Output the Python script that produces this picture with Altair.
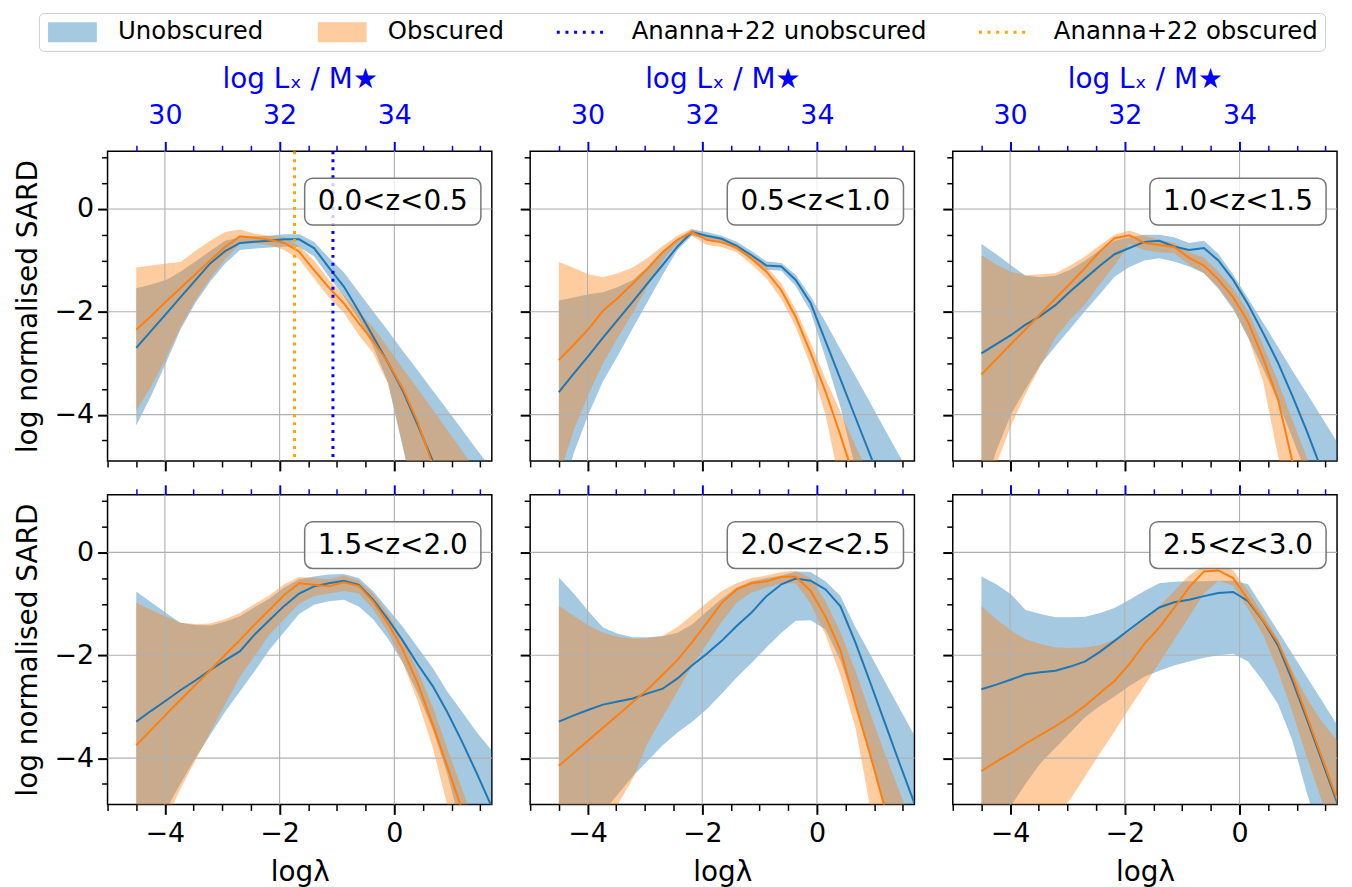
import altair as alt
import pandas as pd

# ---------------- data ----------------
LOG_LAMBDA = [-4.5, -4.24, -3.98, -3.73, -3.47, -3.21, -2.95, -2.69, -2.43, -2.18, -1.92, -1.66, -1.4,
              -1.14, -0.88, -0.62, -0.37, -0.11, 0.15, 0.41, 0.67, 0.92, 1.18, 1.44, 1.7]

Z_BINS = ["0.0<z<0.5", "0.5<z<1.0", "1.0<z<1.5", "1.5<z<2.0", "2.0<z<2.5", "2.5<z<3.0"]

UNOBS_MED = [
    [-2.70, -2.37, -2.04, -1.72, -1.39, -1.06, -0.82, -0.66, -0.64, -0.62, -0.59, -0.59, -0.76, -1.14, -1.51, -1.99, -2.48, -2.99, -3.54, -4.21, -4.90, -5.60, -6.30, -7.00, -7.70],
    [-3.56, -3.20, -2.85, -2.50, -2.15, -1.80, -1.44, -1.09, -0.73, -0.45, -0.52, -0.58, -0.72, -0.90, -1.10, -1.12, -1.38, -1.83, -2.57, -3.31, -4.05, -4.76, -5.50, -6.20, -6.90],
    [-2.81, -2.63, -2.45, -2.25, -2.08, -1.87, -1.60, -1.35, -1.10, -0.88, -0.76, -0.64, -0.62, -0.73, -0.80, -0.76, -1.00, -1.38, -1.86, -2.41, -2.99, -3.63, -4.34, -5.10, -5.90],
    [-3.29, -3.08, -2.88, -2.68, -2.49, -2.29, -2.10, -1.92, -1.59, -1.32, -1.04, -0.80, -0.66, -0.60, -0.55, -0.63, -0.92, -1.30, -1.72, -2.18, -2.60, -3.10, -3.68, -4.30, -4.95],
    [-3.29, -3.17, -3.06, -2.96, -2.90, -2.84, -2.74, -2.65, -2.45, -2.20, -1.97, -1.72, -1.43, -1.17, -0.85, -0.62, -0.51, -0.55, -0.72, -1.05, -1.75, -2.50, -3.30, -4.10, -4.88],
    [-2.66, -2.57, -2.47, -2.37, -2.33, -2.30, -2.22, -2.12, -1.93, -1.72, -1.50, -1.28, -1.07, -0.97, -0.92, -0.85, -0.79, -0.77, -0.95, -1.33, -1.81, -2.49, -3.26, -4.06, -4.86],
]
UNOBS_LO = [
    [-4.21, -3.63, -2.99, -2.35, -1.83, -1.41, -1.06, -0.80, -0.77, -0.75, -0.73, -0.74, -0.92, -1.32, -1.70, -2.15, -2.67, -3.38, -4.65, -5.90, -7.00, -7.50, -8.00, -8.00, -8.00],
    [-5.80, -4.75, -3.98, -3.35, -2.85, -2.32, -1.80, -1.28, -0.80, -0.52, -0.58, -0.64, -0.80, -0.98, -1.18, -1.20, -1.50, -2.00, -2.90, -3.85, -5.05, -6.20, -7.00, -7.50, -8.00],
    [-5.60, -4.70, -3.98, -3.50, -3.03, -2.67, -2.33, -1.98, -1.65, -1.32, -1.13, -1.00, -0.96, -1.02, -1.12, -1.25, -1.55, -1.95, -2.50, -3.10, -3.75, -4.45, -5.20, -6.00, -6.80],
    [-5.80, -5.40, -5.00, -4.50, -4.00, -3.55, -3.10, -2.70, -2.30, -1.90, -1.55, -1.20, -1.02, -0.95, -0.92, -1.05, -1.30, -1.68, -2.15, -2.75, -3.45, -4.30, -5.40, -6.50, -7.50],
    [-6.50, -6.00, -5.50, -5.05, -4.70, -4.35, -4.05, -3.75, -3.50, -3.30, -3.05, -2.75, -2.43, -2.15, -1.85, -1.56, -1.33, -1.32, -1.50, -2.10, -2.95, -3.90, -4.95, -6.00, -7.00],
    [-6.00, -5.45, -4.92, -4.50, -4.10, -3.80, -3.50, -3.20, -2.98, -2.80, -2.60, -2.42, -2.30, -2.20, -2.12, -2.05, -2.00, -1.97, -2.12, -2.50, -2.95, -3.65, -4.70, -5.60, -6.50],
]
UNOBS_HI = [
    [-1.54, -1.47, -1.38, -1.22, -1.02, -0.82, -0.62, -0.55, -0.53, -0.52, -0.49, -0.49, -0.64, -0.95, -1.23, -1.62, -1.99, -2.37, -2.76, -3.14, -3.53, -3.90, -4.29, -4.68, -5.06],
    [-1.78, -1.72, -1.66, -1.62, -1.52, -1.38, -1.12, -0.82, -0.58, -0.40, -0.45, -0.52, -0.64, -0.82, -1.02, -1.05, -1.28, -1.70, -2.20, -2.73, -3.25, -3.75, -4.28, -4.80, -5.30],
    [-0.68, -0.88, -1.10, -1.30, -1.33, -1.30, -1.18, -1.00, -0.80, -0.62, -0.55, -0.50, -0.50, -0.55, -0.66, -0.62, -0.87, -1.28, -1.74, -2.21, -2.68, -3.14, -3.60, -4.06, -4.53],
    [-0.76, -0.97, -1.18, -1.37, -1.41, -1.42, -1.35, -1.24, -1.06, -0.90, -0.68, -0.52, -0.47, -0.43, -0.42, -0.50, -0.75, -1.10, -1.45, -1.85, -2.25, -2.70, -3.10, -3.50, -3.85],
    [-0.49, -0.80, -1.15, -1.46, -1.58, -1.65, -1.65, -1.63, -1.56, -1.40, -1.15, -0.90, -0.68, -0.56, -0.50, -0.45, -0.37, -0.38, -0.56, -0.85, -1.45, -1.96, -2.50, -3.03, -3.56],
    [-0.47, -0.62, -0.82, -1.12, -1.20, -1.26, -1.26, -1.25, -1.18, -1.08, -0.92, -0.75, -0.60, -0.57, -0.56, -0.56, -0.55, -0.55, -0.62, -1.07, -1.53, -1.97, -2.43, -2.89, -3.35],
]
OBS_MED = [
    [-2.35, -2.08, -1.80, -1.54, -1.27, -1.00, -0.74, -0.53, -0.56, -0.60, -0.66, -0.83, -1.19, -1.53, -1.83, -2.22, -2.57, -2.98, -3.50, -4.15, -4.98, -5.80, -6.60, -7.40, -8.00],
    [-2.94, -2.64, -2.33, -1.98, -1.73, -1.45, -1.16, -0.84, -0.60, -0.45, -0.60, -0.65, -0.75, -0.97, -1.22, -1.58, -2.10, -2.80, -3.55, -4.40, -5.30, -6.20, -7.00, -7.50, -8.00],
    [-3.22, -2.92, -2.62, -2.34, -2.04, -1.74, -1.45, -1.14, -0.82, -0.57, -0.51, -0.66, -0.70, -0.74, -0.95, -1.10, -1.37, -1.72, -2.20, -2.90, -3.70, -4.90, -6.00, -7.00, -8.00],
    [-3.75, -3.45, -3.15, -2.87, -2.58, -2.29, -1.99, -1.70, -1.40, -1.12, -0.83, -0.60, -0.63, -0.66, -0.58, -0.65, -0.95, -1.38, -1.90, -2.55, -3.35, -4.15, -5.00, -5.90, -6.80],
    [-4.15, -3.90, -3.65, -3.41, -3.16, -2.91, -2.66, -2.38, -2.09, -1.75, -1.37, -0.98, -0.72, -0.60, -0.56, -0.48, -0.47, -0.75, -1.25, -1.90, -2.95, -3.90, -4.95, -6.00, -7.00],
    [-4.25, -4.07, -3.90, -3.72, -3.55, -3.38, -3.19, -2.98, -2.73, -2.50, -2.17, -1.78, -1.46, -1.08, -0.68, -0.37, -0.35, -0.50, -0.92, -1.32, -1.75, -2.40, -3.20, -4.00, -4.80],
]
OBS_LO = [
    [-3.92, -3.45, -2.90, -2.30, -1.78, -1.35, -0.98, -0.68, -0.66, -0.70, -0.80, -0.98, -1.35, -1.72, -2.02, -2.45, -2.80, -3.40, -4.60, -5.90, -7.00, -7.50, -8.00, -8.00, -8.00],
    [-5.20, -4.30, -3.60, -3.00, -2.50, -2.02, -1.50, -1.00, -0.66, -0.52, -0.70, -0.74, -0.84, -1.08, -1.35, -1.75, -2.30, -3.05, -4.00, -5.40, -6.50, -7.00, -7.50, -8.00, -8.00],
    [-5.90, -4.96, -4.20, -3.60, -3.05, -2.50, -2.15, -1.85, -1.45, -1.10, -0.68, -0.80, -0.84, -0.86, -1.08, -1.25, -1.52, -1.92, -2.50, -3.35, -4.80, -5.80, -6.80, -7.50, -8.00],
    [-6.20, -5.70, -5.20, -4.60, -4.05, -3.50, -2.95, -2.42, -2.00, -1.60, -1.30, -1.00, -0.85, -0.80, -0.75, -0.80, -1.10, -1.55, -2.15, -2.90, -3.80, -4.90, -5.90, -6.80, -7.50],
    [-6.60, -6.20, -5.75, -5.30, -4.90, -4.40, -3.70, -3.20, -2.70, -2.20, -1.78, -1.35, -0.98, -0.78, -0.68, -0.60, -0.60, -1.00, -1.60, -2.40, -3.40, -4.90, -6.00, -7.00, -8.00],
    [-6.60, -6.30, -6.00, -5.70, -5.40, -5.15, -4.80, -4.35, -3.90, -3.48, -3.03, -2.60, -2.15, -1.70, -1.25, -0.80, -0.55, -0.65, -1.10, -1.60, -2.30, -3.10, -4.00, -4.85, -5.70],
]
OBS_HI = [
    [-1.14, -1.10, -1.06, -1.03, -0.82, -0.62, -0.45, -0.40, -0.48, -0.52, -0.55, -0.72, -1.00, -1.38, -1.68, -2.00, -2.30, -2.70, -3.10, -3.50, -3.90, -4.30, -4.70, -5.10, -5.50],
    [-1.03, -1.15, -1.27, -1.33, -1.25, -1.14, -0.95, -0.72, -0.52, -0.38, -0.52, -0.57, -0.68, -0.88, -1.12, -1.45, -1.95, -2.60, -3.30, -3.95, -4.60, -5.20, -5.90, -6.50, -7.00],
    [-0.90, -1.08, -1.22, -1.29, -1.27, -1.25, -1.10, -0.92, -0.70, -0.50, -0.42, -0.52, -0.60, -0.66, -0.84, -0.95, -1.22, -1.55, -2.00, -2.65, -3.35, -4.10, -4.85, -5.60, -6.30],
    [-0.98, -1.12, -1.25, -1.37, -1.39, -1.38, -1.30, -1.18, -1.00, -0.84, -0.62, -0.48, -0.50, -0.52, -0.45, -0.55, -0.80, -1.20, -1.70, -2.30, -3.00, -3.80, -4.60, -5.40, -6.20],
    [-1.04, -1.23, -1.42, -1.56, -1.64, -1.68, -1.67, -1.62, -1.45, -1.22, -0.98, -0.75, -0.60, -0.50, -0.45, -0.38, -0.36, -0.50, -0.95, -1.55, -2.30, -3.10, -3.90, -4.65, -5.40],
    [-1.04, -1.30, -1.52, -1.69, -1.78, -1.85, -1.86, -1.85, -1.80, -1.70, -1.55, -1.30, -1.05, -0.75, -0.45, -0.25, -0.22, -0.35, -0.75, -1.20, -1.70, -2.30, -2.85, -3.30, -3.65],
]

ANANNA_NAMES = ["Ananna+22 unobscured", "Ananna+22 obscured"]
ANANNA_LOG_LX_M = [32.93, 32.26]     # on the top (log Lx / M*) axis
LX_OFFSET = 34                        # log Lx/M* = log(lambda) + 34

LEGEND_NAMES = ["Unobscured", "Obscured", "Ananna+22 unobscured", "Ananna+22 obscured"]

# ---------------- styling ----------------
FONT = "DejaVu Sans"
W, H = 386, 311
C_BLUE, C_ORANGE = "#1f77b4", "#ff7f0e"
TOP_BLUE, ANN_ORANGE = "#0000ff", "#ffa500"
GRID = "#b0b0b0"
MAJOR = [-4, -2, 0]
X_MINOR_BOTTOM = [-5, -4.5, -3.5, -3, -2.5, -1.5, -1, -0.5, 0.5, 1, 1.5]
X_MINOR_TOP = [-4.5, -3.5, -3, -2.5, -1.5, -1, -0.5, 0.5, 1, 1.5]
Y_MINOR = [-4.5, -3.5, -3, -2.5, -1.5, -1, -0.5, 0.5, 1]

XS = alt.Scale(domain=[-5, 1.7], nice=False, zero=False)
YS = alt.Scale(domain=[-4.9, 1.12], nice=False, zero=False)

RECT_PATH = "M-1,-1L3.9,-1L3.9,1L-1,1Z"
DOTS_PATH = ("M-1.5,-0.15h0.3v0.3h-0.3Z M-0.63,-0.15h0.3v0.3h-0.3Z M0.24,-0.15h0.3v0.3h-0.3Z "
             "M1.11,-0.15h0.3v0.3h-0.3Z M1.98,-0.15h0.3v0.3h-0.3Z M2.85,-0.15h0.3v0.3h-0.3Z")


def ax(**kw):
    base = dict(domain=False, grid=False, labelFont=FONT, titleFont=FONT, titleFontWeight="normal")
    base.update(kw)
    return alt.Axis(**base)


def legend_def():
    return alt.Legend(orient="none", legendX=-69, legendY=-139, direction="horizontal", columns=4,
                      title=None, symbolSize=400, symbolStrokeWidth=0, symbolOpacity=1,
                      labelFont=FONT, labelFontSize=24.5, labelColor="black", labelOffset=48,
                      labelLimit=600, columnPadding=52, padding=7, fillColor="white",
                      strokeColor="#cccccc", cornerRadius=5)


def panel(i):
    row, col = divmod(i, 3)
    df = pd.DataFrame({"x": LOG_LAMBDA, "umed": UNOBS_MED[i], "ulo": UNOBS_LO[i], "uhi": UNOBS_HI[i],
                       "omed": OBS_MED[i], "olo": OBS_LO[i], "ohi": OBS_HI[i]})
    base = alt.Chart(df)

    bottom_major = ax(orient="bottom", values=MAJOR, format="d", tickSize=10, tickWidth=2, tickColor="black",
                      labels=row == 1, labelFontSize=27, labelColor="black", labelPadding=6,
                      title="logλ" if row == 1 else None, titleFontSize=28, titleColor="black",
                      titlePadding=12)
    bottom_minor = ax(orient="bottom", values=X_MINOR_BOTTOM, tickSize=6, tickWidth=1.5,
                      tickColor="black", labels=False, title=None)
    left_major = ax(orient="left", values=MAJOR, format="d", tickSize=10, tickWidth=2, tickColor="black",
                    labels=col == 0, labelFontSize=27, labelColor="black", labelPadding=4,
                    title="log normalised SARD" if col == 0 else None, titleFontSize=28,
                    titleColor="black", titlePadding=12)
    left_minor = ax(orient="left", values=Y_MINOR, tickSize=6, tickWidth=1.5, tickColor="black",
                    labels=False, title=None)
    top_major = ax(orient="top", values=MAJOR, labelExpr=f"format(datum.value + {LX_OFFSET}, 'd')",
                   tickSize=10, tickWidth=2, tickColor=TOP_BLUE, labels=row == 0, labelFontSize=27,
                   labelColor=TOP_BLUE, labelPadding=12,
                   title="log Lₓ / M★" if row == 0 else None, titleFontSize=28, titleColor=TOP_BLUE,
                   titlePadding=8)
    top_minor = ax(orient="top", values=X_MINOR_TOP, tickSize=6, tickWidth=1.5, tickColor=TOP_BLUE,
                   labels=False, title=None)

    blue_band = base.mark_area(color=C_BLUE, opacity=0.4, clip=True).encode(
        x=alt.X("x:Q", scale=XS, axis=bottom_major),
        y=alt.Y("ulo:Q", scale=YS, axis=left_major), y2="uhi:Q")
    orange_band = base.mark_area(color=C_ORANGE, opacity=0.4, clip=True).encode(
        x=alt.X("x:Q", scale=XS, axis=bottom_minor),
        y=alt.Y("olo:Q", scale=YS, axis=left_minor), y2="ohi:Q")

    grid_df = alt.Chart(pd.DataFrame({"v": MAJOR}))
    grid_x = grid_df.mark_rule(color=GRID, strokeWidth=1.1).encode(x=alt.X("v:Q", scale=XS, axis=None))
    grid_y = grid_df.mark_rule(color=GRID, strokeWidth=1.1).encode(y=alt.Y("v:Q", scale=YS, axis=None))

    blue_line = base.mark_line(color=C_BLUE, strokeWidth=2, clip=True).encode(
        x=alt.X("x:Q", scale=XS, axis=top_major), y=alt.Y("umed:Q", scale=YS, axis=None))
    orange_line = base.mark_line(color=C_ORANGE, strokeWidth=2, clip=True).encode(
        x=alt.X("x:Q", scale=XS, axis=top_minor), y=alt.Y("omed:Q", scale=YS, axis=None))

    layers = [blue_band, orange_band, grid_x, grid_y, blue_line, orange_line]

    if i == 0:
        rules = alt.Chart(pd.DataFrame({"name": ANANNA_NAMES, "lx": ANANNA_LOG_LX_M})).transform_calculate(
            loglam=f"datum.lx - {LX_OFFSET}"
        ).mark_rule(strokeWidth=3, strokeDash=[3, 5], clip=True).encode(
            x=alt.X("loglam:Q", scale=XS, axis=None),
            stroke=alt.Stroke("name:N", scale=alt.Scale(domain=ANANNA_NAMES, range=[TOP_BLUE, ANN_ORANGE]),
                              legend=None))
        layers.append(rules)

    lab = alt.Chart(pd.DataFrame({"label": [Z_BINS[i]]}))
    box = lab.mark_rect(fill="white", fillOpacity=0.8, stroke="#777777", strokeWidth=1.5,
                        cornerRadius=8).encode(x=alt.value(198), x2=alt.value(375),
                                               y=alt.value(27), y2=alt.value(74))
    txt = lab.mark_text(font=FONT, fontSize=28, color="black", align="center",
                        baseline="alphabetic").encode(x=alt.value(286.5), y=alt.value(59),
                                                      text="label:N")
    layers += [box, txt]

    if i == 0:
        leg = alt.Chart(pd.DataFrame({"name": LEGEND_NAMES})).transform_filter("false").mark_point(
            filled=True, opacity=1).encode(
            color=alt.Color("name:N", scale=alt.Scale(domain=LEGEND_NAMES,
                                                      range=["rgba(31,119,180,0.4)", "rgba(255,127,14,0.4)",
                                                             TOP_BLUE, ANN_ORANGE]),
                            legend=legend_def()),
            shape=alt.Shape("name:N", scale=alt.Scale(domain=LEGEND_NAMES,
                                                      range=[RECT_PATH, RECT_PATH, DOTS_PATH, DOTS_PATH]),
                            legend=legend_def()))
        layers.append(leg)

    return alt.layer(*layers).resolve_axis(x="independent", y="independent").properties(width=W, height=H)


chart = alt.concat(*[panel(i) for i in range(6)], columns=3,
                   spacing={"row": 34, "column": 38.5}).properties(
    bounds="flush", padding={"left": 5, "top": 2, "right": 5, "bottom": 5}
).configure(font=FONT).configure_view(stroke="black", strokeWidth=1.5)

chart.save("out.html", embed_options={"renderer": "svg", "actions": False})
